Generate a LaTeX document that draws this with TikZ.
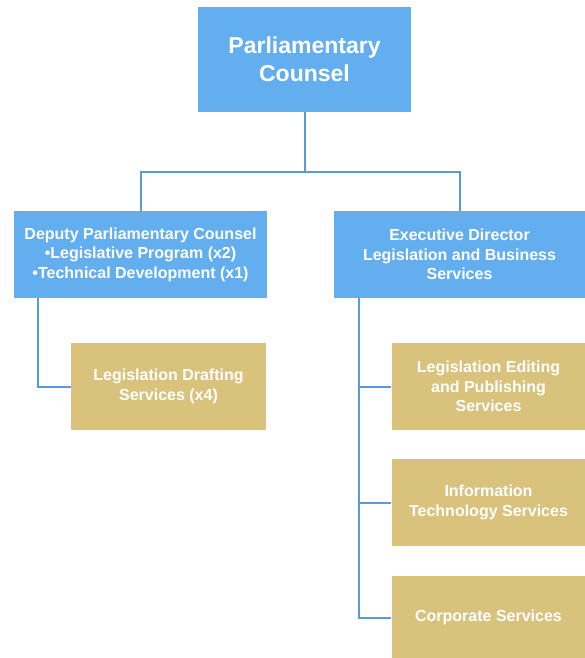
\documentclass[tikz,border=0pt]{standalone}
\usepackage{fontspec}
\setmainfont{Liberation Sans}
\definecolor{headblue}{RGB}{99,174,239}
\definecolor{unitgold}{RGB}{216,194,124}
\definecolor{linkblue}{RGB}{91,155,213}
\begin{document}
\begin{tikzpicture}[x=1pt,y=1pt,
    head/.style={fill=headblue,text=white,font=\bfseries\fontsize{16}{19.5}\selectfont,
      align=center,inner sep=0pt,minimum height=87pt},
    unit/.style={fill=unitgold,text=white,font=\bfseries\fontsize{16}{19.5}\selectfont,
      align=center,inner sep=0pt,minimum width=194pt,minimum height=87pt},
    link/.style={draw=linkblue,line width=2pt}]
      \useasboundingbox (0,0) rectangle (585,-658);
      \draw
        (304.5,-59.5) node[head,minimum width=213pt,minimum height=105pt,
          font=\bfseries\fontsize{23}{28}\selectfont] (pc){Parliamentary\\Counsel}
        (140.5,-254.5) node[head,minimum width=253pt] (dpc){Deputy Parliamentary Counsel\\
          •Legislative Program (x2)\\•Technical Development (x1)}
        (459.5,-254.5) node[head,minimum width=251pt] (eds){Executive Director\\
          Legislation and Business\\Services}
        (168.5,-386.5) node[unit,minimum width=195pt] (lds){Legislation Drafting\\Services (x4)}
        (488.5,-386.5) node[unit] (eps){Legislation Editing\\and Publishing\\Services}
        (488.5,-502.5) node[unit] (its){Information\\Technology Services}
        (488.5,-617.5) node[unit,minimum height=83pt] (cs){Corporate Services};
      \coordinate (bus) at (0,-172);
      \begin{scope}[link]
        \draw (pc.south) -- (pc.south |- bus) -| (dpc.north);
        \draw (pc.south |- bus) -| (eds.north);
        \draw ([xshift=24pt]dpc.south west) |- (lds.west);
        \draw ([xshift=25pt]eds.south west) |- (eps.west);
        \draw ([xshift=25pt]eds.south west) |- (its.west);
        \draw ([xshift=25pt]eds.south west) |- (cs.west);
      \end{scope}
    \end{tikzpicture}
\end{document}
